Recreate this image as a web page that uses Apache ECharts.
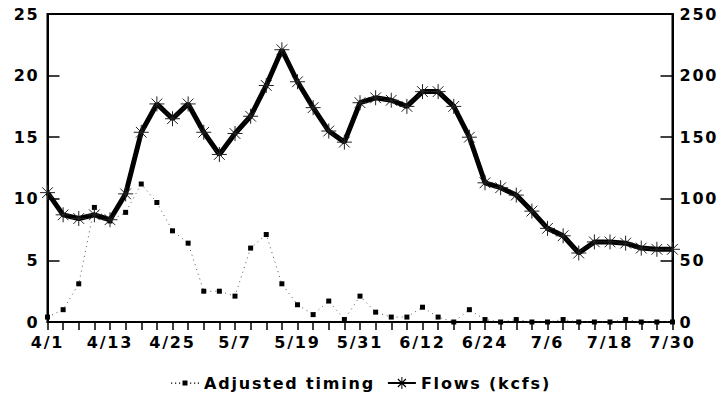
<!DOCTYPE html>
<html>
<head>
<meta charset="utf-8">
<script src="https://cdn.jsdelivr.net/npm/echarts@6/dist/echarts.min.js"></script>
<style>
html,body{margin:0;padding:0;background:#fff;}
#chart{width:725px;height:400px;}
#chart text{letter-spacing:1.8px;}
</style>
</head>
<body>
<div id="chart"></div>
<script>
var categories = ['4/1','4/4','4/7','4/10','4/13','4/16','4/19','4/22','4/25','4/28','5/1','5/4','5/7','5/10','5/13','5/16','5/19','5/22','5/25','5/28','5/31','6/3','6/6','6/9','6/12','6/15','6/18','6/21','6/24','6/27','6/30','7/3','7/6','7/9','7/12','7/15','7/18','7/21','7/24','7/27','7/30'];
var adjustedTiming = [0.4,1.0,3.1,9.3,8.2,8.9,11.2,9.7,7.4,6.4,2.5,2.5,2.1,6.0,7.1,3.1,1.4,0.6,1.7,0.2,2.1,0.8,0.4,0.4,1.2,0.4,0.0,1.0,0.2,0.0,0.2,0.0,0.0,0.2,0.0,0.0,0.0,0.2,0.0,0.0,0.0];
var flows = [105,87,84,87,83,104,154,177,165,177,154,136,153,167,192,221,195,174,155,146,178,182,180,175,187,187,175,150,113,109,103,90,76,70,56,65,65,64,60,59,59];
var leftTicks = {min:0, max:25, interval:5};
var rightTicks = {min:0, max:250, interval:50};

var FONT = 'DejaVu Sans';
var asterisk = 'path://M0,-7L0,7M-7,0L7,0M-5,-5L5,5M-5,5L5,-5';
var legendDotted = 'path://M0,2h1.2v1.2h-1.2Z M4,2h1.2v1.2h-1.2Z M8,2h1.2v1.2h-1.2Z M11.5,0h5v5h-5Z M19,2h1.2v1.2h-1.2Z M23,2h1.2v1.2h-1.2Z M26.8,2h1.2v1.2h-1.2Z';
var legendStar = 'path://M0,5h28v2h-28Z M13.5,0h1v12h-1Z M9.6,2.4L10.4,1.6L18.4,9.6L17.6,10.4Z M17.6,1.6L18.4,2.4L10.4,10.4L9.6,9.6Z';
var chart = echarts.init(document.getElementById('chart'), null, {renderer:'svg'});
var labelStyle = {color:'#000', fontFamily:FONT, fontWeight:'bold', fontSize:16};
chart.setOption({
  animation:false,
  backgroundColor:'#fff',
  grid:{left:47.5, right:52.5, top:14, bottom:78, show:true, borderColor:'#000', borderWidth:2, containLabel:false},
  legend:{
    bottom:4, left:166, itemGap:40, itemWidth:28, itemHeight:14,
    itemStyle:{borderWidth:0, color:'#000'},
    textStyle:{color:'#000', fontFamily:FONT, fontWeight:'bold', fontSize:16},
    data:[
      {name:'Adjusted timing', icon:legendDotted},
      {name:'Flows (kcfs)', icon:legendStar}
    ]
  },
  xAxis:{
    type:'category', data:categories, boundaryGap:false,
    axisLine:{lineStyle:{color:'#000', width:2}},
    axisTick:{show:true, interval:0, length:8, lineStyle:{color:'#000', width:1.5}},
    axisLabel:Object.assign({interval:3, margin:12}, labelStyle),
    splitLine:{show:false}
  },
  yAxis:[
    {type:'value', min:leftTicks.min, max:leftTicks.max, interval:leftTicks.interval, position:'left',
     axisLine:{show:true, lineStyle:{color:'#000', width:2}},
     axisTick:{show:true, inside:true, length:12, lineStyle:{color:'#000', width:1.5}},
     axisLabel:Object.assign({margin:8}, labelStyle),
     splitLine:{show:false}},
    {type:'value', min:rightTicks.min, max:rightTicks.max, interval:rightTicks.interval, position:'right',
     axisLine:{show:true, lineStyle:{color:'#000', width:2}},
     axisTick:{show:true, inside:true, length:12, lineStyle:{color:'#000', width:1.5}},
     axisLabel:Object.assign({margin:7}, labelStyle),
     splitLine:{show:false}}
  ],
  series:[
    {name:'Adjusted timing', type:'line', yAxisIndex:0, data:adjustedTiming,
     symbol:'rect', symbolSize:5, showAllSymbol:true,
     itemStyle:{color:'#000'},
     lineStyle:{color:'#555', width:1, type:[1,4]}, z:2},
    {name:'Flows (kcfs)', type:'line', yAxisIndex:1, data:flows,
     symbol:asterisk, symbolSize:15, showAllSymbol:true,
     itemStyle:{color:'#000', borderColor:'#222', borderWidth:1},
     lineStyle:{color:'#000', width:5}, z:3}
  ]
});
</script>
</body>
</html>
